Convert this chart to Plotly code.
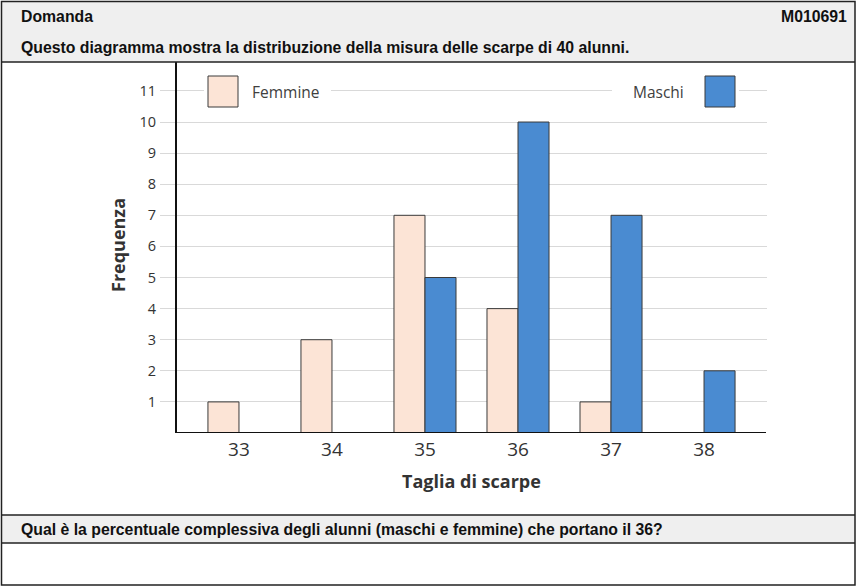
import plotly.graph_objects as go

sizes = [33, 34, 35, 36, 37, 38]
femmine = [1, 3, 7, 4, 1, None]
maschi = [None, None, 5, 10, 7, 2]
y_ticks = list(range(1, 12))

W, H = 858, 588
def px(x):
    return x / W
def py(y):
    return 1 - y / H

FEM_COLOR = "#fce4d6"
MAS_COLOR = "#4a8bd1"
EDGE = "#3a3a3a"
HEAD_FONT = "Liberation Sans Narrow, Liberation Sans, Arial, sans-serif"
CHART_FONT = "Open Sans, sans-serif"

fig = go.Figure()
fig.add_trace(go.Bar(x=sizes, y=femmine, name="Femmine",
                     marker=dict(color=FEM_COLOR, line=dict(color=EDGE, width=1))))
fig.add_trace(go.Bar(x=sizes, y=maschi, name="Maschi",
                     marker=dict(color=MAS_COLOR, line=dict(color=EDGE, width=1))))

shapes = []
# gray bands
shapes.append(dict(type="rect", xref="paper", yref="paper", x0=px(1), x1=px(855), y0=py(1), y1=py(62),
                   fillcolor="#efefef", line=dict(width=0), layer="below"))
shapes.append(dict(type="rect", xref="paper", yref="paper", x0=px(1), x1=px(855), y0=py(515), y1=py(543),
                   fillcolor="#efefef", line=dict(width=0), layer="below"))
# horizontal separators
for yy in [62, 515, 543]:
    shapes.append(dict(type="line", xref="paper", yref="paper", x0=px(1), x1=px(855), y0=py(yy), y1=py(yy),
                       line=dict(color="#222222", width=1.5)))
# outer border
shapes.append(dict(type="rect", xref="paper", yref="paper", x0=px(1.5), x1=px(855), y0=py(1.5), y1=py(585),
                   line=dict(color="#222222", width=1.5)))
# x axis line
shapes.append(dict(type="line", xref="paper", yref="y", x0=px(176), x1=px(766), y0=0, y1=0,
                   line=dict(color="#111111", width=2)))
# legend boxes (white background interrupting the gridline)
shapes.append(dict(type="rect", xref="paper", yref="paper", x0=px(204), x1=px(331), y0=py(74), y1=py(109),
                   fillcolor="white", line=dict(width=0), layer="above"))
shapes.append(dict(type="rect", xref="paper", yref="paper", x0=px(612), x1=px(739), y0=py(74), y1=py(109),
                   fillcolor="white", line=dict(width=0), layer="above"))
shapes.append(dict(type="rect", xref="paper", yref="paper", x0=px(208), x1=px(238), y0=py(76), y1=py(107),
                   fillcolor=FEM_COLOR, line=dict(color=EDGE, width=1), layer="above"))
shapes.append(dict(type="rect", xref="paper", yref="paper", x0=px(705), x1=px(735), y0=py(76), y1=py(107),
                   fillcolor=MAS_COLOR, line=dict(color=EDGE, width=1), layer="above"))

annotations = [
    dict(text="<b>Domanda</b>", x=px(19), y=py(17), xanchor="left", yanchor="middle",
         font=dict(family=HEAD_FONT, size=15.8, color="#111111")),
    dict(text="<b>M010691</b>", x=px(849), y=py(17), xanchor="right", yanchor="middle",
         font=dict(family=HEAD_FONT, size=15.8, color="#111111")),
    dict(text="<b>Questo diagramma mostra la distribuzione della misura delle scarpe di 40 alunni.</b>",
         x=px(19), y=py(47), xanchor="left", yanchor="middle",
         font=dict(family=HEAD_FONT, size=15.8, color="#111111")),
    dict(text="<b>Qual è la percentuale complessiva degli alunni (maschi e femmine) che portano il 36?</b>",
         x=px(19), y=py(529), xanchor="left", yanchor="middle",
         font=dict(family=HEAD_FONT, size=15.8, color="#111111")),
    dict(text="Femmine", x=px(250), y=py(92), xanchor="left", yanchor="middle",
         font=dict(family=CHART_FONT, size=15.5, color="#404040")),
    dict(text="Maschi", x=px(686), y=py(92), xanchor="right", yanchor="middle",
         font=dict(family=CHART_FONT, size=15.5, color="#404040")),
    dict(text="<b>Taglia di scarpe</b>", x=px(471), y=py(481), xanchor="center", yanchor="middle",
         font=dict(family=CHART_FONT, size=18, color="#333333")),
    dict(text="<b>Frequenza</b>", x=px(118), y=py(245), xanchor="center", yanchor="middle", textangle=-90,
         font=dict(family=CHART_FONT, size=18, color="#333333")),
]
for a in annotations:
    a.update(xref="paper", yref="paper", showarrow=False)

fig.update_layout(
    width=W, height=H, margin=dict(l=0, r=0, t=0, b=0),
    paper_bgcolor="white", plot_bgcolor="white",
    barmode="group", bargap=0.333, bargroupgap=0,
    showlegend=False,
    shapes=shapes, annotations=annotations,
    xaxis=dict(domain=[px(160), px(767)], range=[32.151, 38.677], tickvals=sizes,
               ticktext=[str(s) for s in sizes], showgrid=False, zeroline=False, showline=False,
               tickfont=dict(family=CHART_FONT, size=19, color="#333333"), ticklabelstandoff=3),
    yaxis=dict(domain=[py(433), py(62)], range=[0, 11.93], tickvals=y_ticks,
               anchor="free", position=px(176),
               showgrid=True, gridcolor="#d9d9d9", gridwidth=1, zeroline=False,
               showline=True, linecolor="#111111", linewidth=2,
               tickfont=dict(family=CHART_FONT, size=14.5, color="#333333"), ticklabelstandoff=16),
)

fig.write_html("out.html")
